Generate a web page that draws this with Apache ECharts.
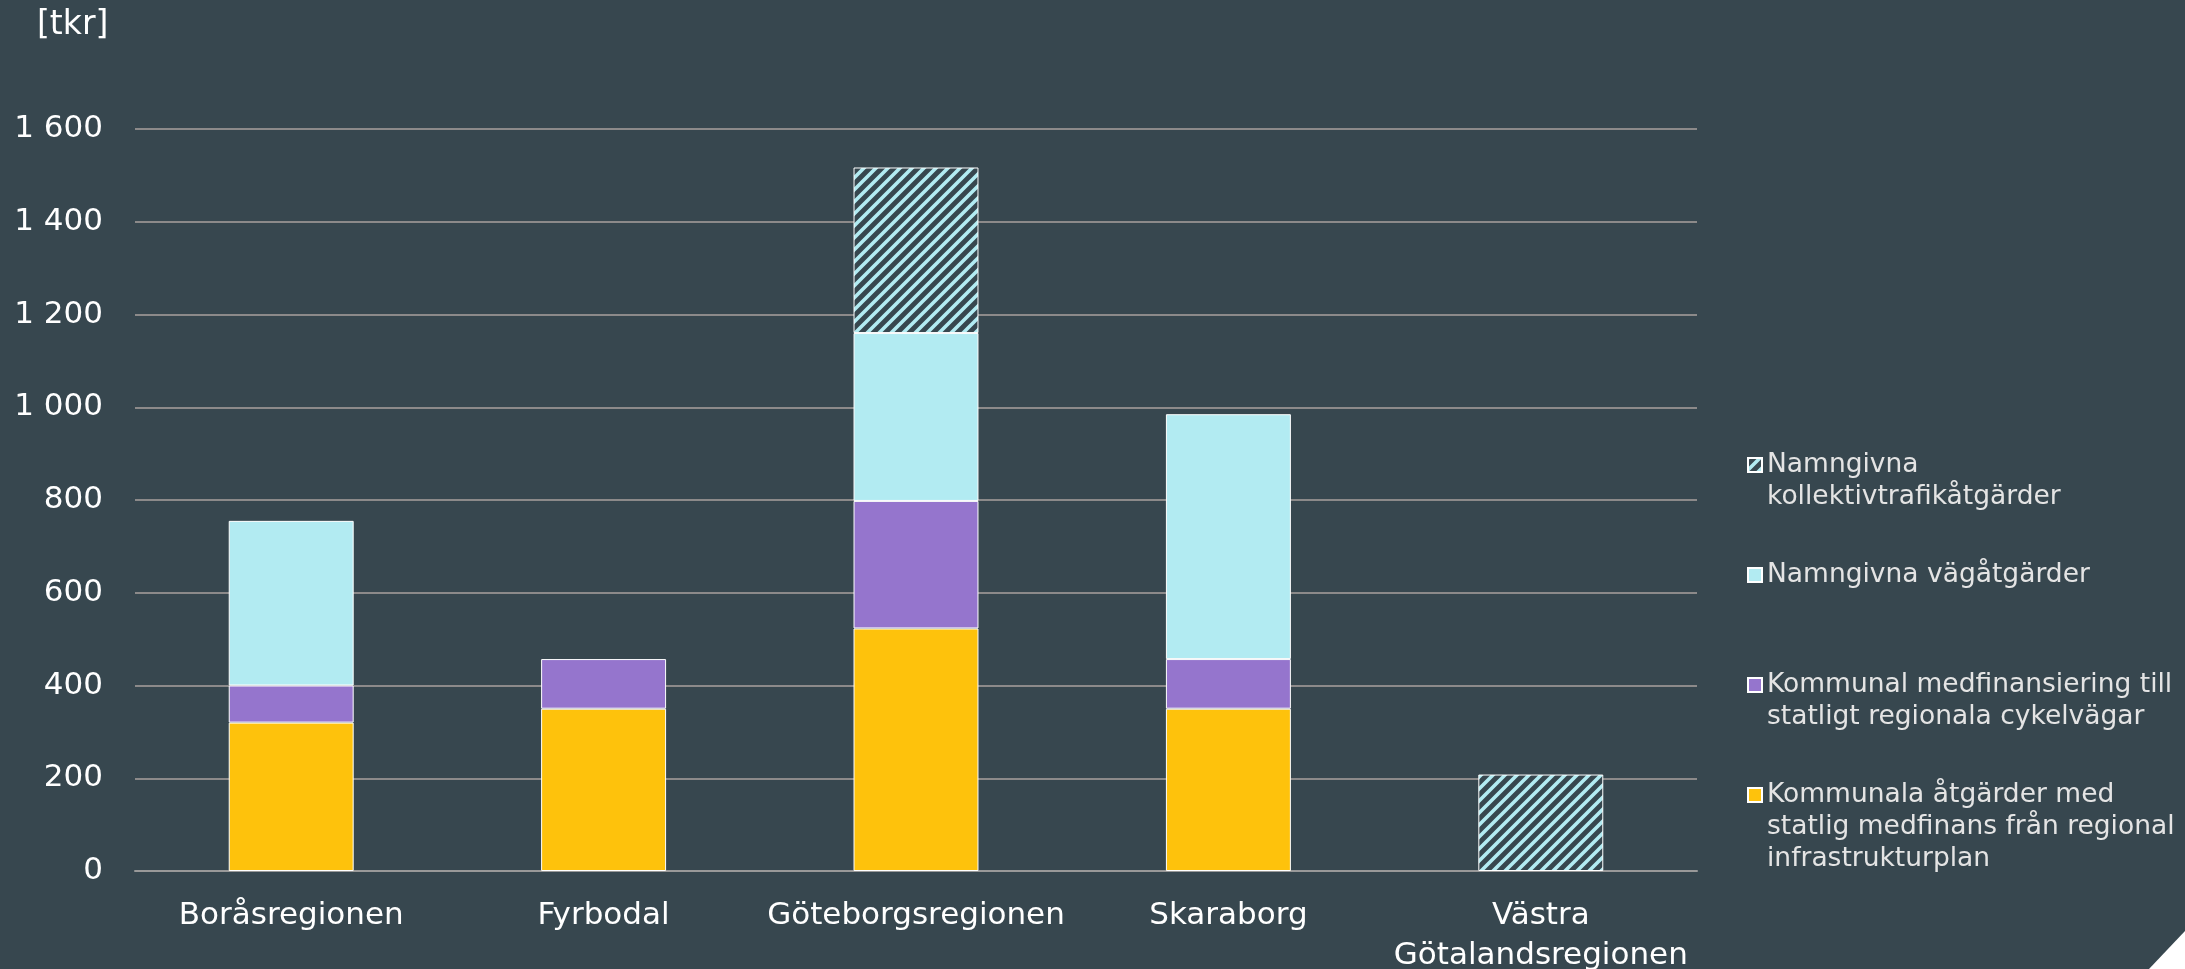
<!DOCTYPE html>
<html>
<head>
<meta charset="utf-8">
<script src="https://cdn.jsdelivr.net/npm/echarts@6/dist/echarts.min.js"></script>
<style>
  html, body { margin: 0; padding: 0; background: #37474f; }
  #main { width: 2185px; height: 969px; }
</style>
</head>
<body>
<div id="main"></div>
<script>
// kategorier
const regions = ['Boråsregionen', 'Fyrbodal', 'Göteborgsregionen', 'Skaraborg', 'Västra\nGötalandsregionen']
// serier [tkr]
const kommunalaAtgarder = [320, 350, 523, 350, 0]
const kommunalCykel = [80, 107, 275, 107, 0]
const vagAtgarder = [355, 0, 362, 528, 0]
const kollektivAtgarder = [0, 0, 357, 0, 208]
const yTicks = [0, 200, 400, 600, 800, 1000, 1200, 1400, 1600]

const names = [
  'Kommunala åtgärder med\nstatlig medfinans från regional\ninfrastrukturplan',
  'Kommunal medfinansiering till\nstatligt regionala cykelvägar',
  'Namngivna vägåtgärder',
  'Namngivna\nkollektivtrafikåtgärder'
]
const colors = ['#fec20c', '#9575cd', '#b2ebf2']
const bg = '#37474f'
const font = 'DejaVu Sans'

// randigt mönster (/) för kollektivtrafik
function stripes () {
  const c = document.createElement('canvas')
  const s = 12
  c.width = s
  c.height = s
  const ctx = c.getContext('2d')
  ctx.fillStyle = bg
  ctx.fillRect(0, 0, s, s)
  ctx.strokeStyle = '#b2ebf2'
  ctx.lineWidth = 3.6
  ctx.beginPath()
  ctx.moveTo(-4, s + 4); ctx.lineTo(s + 4, -4)
  ctx.moveTo(-4, 4); ctx.lineTo(4, -4)
  ctx.moveTo(s - 4, s + 4); ctx.lineTo(s + 4, s - 4)
  ctx.stroke()
  return { image: c, repeat: 'repeat' }
}

function bar (name, data, color) {
  return {
    name,
    type: 'bar',
    stack: 'tot',
    barWidth: '40%',
    itemStyle: { color, borderColor: '#ffffff', borderWidth: 1 },
    emphasis: { disabled: true },
    data: data.map(v => v || null)
  }
}

const lh = 32
// en legend per post; tomma rader före texten så att ikonen hamnar vid första raden
const legendCenters = [465, 575, 685, 795]
const legendOrder = [3, 2, 1, 0]
const legends = legendOrder.map((idx, i) => {
  const n = names[idx].split('\n').length
  return {
    orient: 'vertical',
    left: 1742,
    top: legendCenters[i] - (2 * n - 1) * lh / 2 - 5,
    icon: 'rect',
    itemWidth: 14,
    itemHeight: 14,
    selectedMode: false,
    data: [names[idx]],
    formatter: name => '\n'.repeat(n - 1) + name,
    textStyle: {
      color: '#e4e4e4',
      fontFamily: font,
      fontSize: 26.5,
      lineHeight: lh
    }
  }
})

const option = {
  backgroundColor: bg,
  animation: false,
  title: {
    text: '[tkr]',
    left: 32,
    top: 4,
    textStyle: { color: '#ffffff', fontFamily: font, fontSize: 33, fontWeight: 'normal' }
  },
  legend: legends,
  grid: { left: 135, right: 488, top: 129, bottom: 98, outerBoundsMode: 'none' },
  xAxis: {
    type: 'category',
    data: regions,
    axisTick: { show: false },
    axisLine: { lineStyle: { color: '#999999', width: 2 } },
    axisLabel: {
      color: '#ffffff',
      fontFamily: font,
      fontSize: 31,
      lineHeight: 40,
      margin: 25,
      interval: 0
    }
  },
  yAxis: {
    type: 'value',
    min: yTicks[0],
    max: yTicks[yTicks.length - 1],
    interval: 200,
    axisLine: { show: false },
    axisTick: { show: false },
    splitLine: { lineStyle: { color: '#8c8a8a', width: 2 } },
    axisLabel: {
      color: '#ffffff',
      fontFamily: font,
      fontSize: 31,
      margin: 32,
      formatter: v => String(v).replace(/\B(?=(\d{3})+(?!\d))/g, ' ')
    }
  },
  series: [
    bar(names[0], kommunalaAtgarder, colors[0]),
    bar(names[1], kommunalCykel, colors[1]),
    bar(names[2], vagAtgarder, colors[2]),
    bar(names[3], kollektivAtgarder, stripes())
  ],
  graphic: [{
    type: 'polygon',
    shape: { points: [[2185, 931], [2185, 969], [2149, 969]] },
    style: { fill: '#ffffff' }
  }]
}

const chart = echarts.init(document.getElementById('main'))
chart.setOption(option, true)
</script>
</body>
</html>
